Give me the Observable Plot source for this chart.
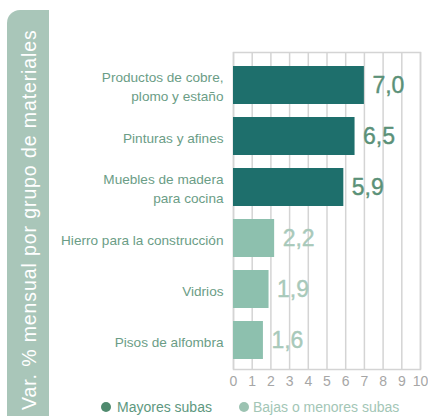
<!DOCTYPE html>
<html>
<head>
<meta charset="utf-8">
<script src="https://cdn.jsdelivr.net/npm/d3@7"></script>
<script src="https://cdn.jsdelivr.net/npm/@observablehq/plot@0.6"></script>
<style>
  html, body { margin: 0; padding: 0; background: #fff; }
  #chart { width: 428px; height: 416px; }
</style>
</head>
<body>
<div id="chart"></div>
<script>
const categorias = ["Productos de cobre,\nplomo y estaño", "Pinturas y afines", "Muebles de madera\npara cocina", "Hierro para la construcción", "Vidrios", "Pisos de alfombra"];
const valores = [7.0, 6.5, 5.9, 2.2, 1.9, 1.6];
const grupos = ["Mayores subas", "Mayores subas", "Mayores subas", "Bajas o menores subas", "Bajas o menores subas", "Bajas o menores subas"];
const grupoNombres = ["Mayores subas", "Bajas o menores subas"];
const xTicks = [0, 1, 2, 3, 4, 5, 6, 7, 8, 9, 10];
const tituloEje = "Var. % mensual por grupo de materiales";

const barColors = ["#1e6f6c", "#8dc0ae"];
const valueColors = ["#5b9178", "#a8c9ba"];
const legendDot = ["#4f8a6e", "#9cc3b2"];
const legendText = ["#5e9880", "#a3c6b6"];
const font = "'Liberation Sans', Arial, sans-serif";

const data = categorias.map((c, i) => ({categoria: c, valor: valores[i], grupo: grupos[i]}));
const fmt = v => d3.format(".1f")(v).replace(".", ",");

const chart = Plot.plot({
  width: 428,
  height: 416,
  marginLeft: 233,
  marginRight: 8,
  marginTop: 52,
  marginBottom: 47,
  style: {fontFamily: font, background: "#fff"},
  x: {domain: [0, 10], ticks: xTicks},
  y: {domain: categorias, paddingInner: 0.26, paddingOuter: 0.13, insetTop: 6, insetBottom: 3},
  color: {domain: grupoNombres, range: barColors},
  marks: [
    Plot.ruleX(xTicks, {stroke: "#d4d4d4", strokeWidth: 1.5}),
    Plot.frame({stroke: "#d4d4d4", strokeWidth: 1.5}),
    Plot.barX(data, {x: "valor", y: "categoria", fill: "grupo"}),
    Plot.text(data.filter(d => d.grupo === grupoNombres[0]), {x: "valor", y: "categoria", text: d => fmt(d.valor), textAnchor: "start", dx: 8, fontSize: 23, fill: valueColors[0], stroke: valueColors[0], strokeWidth: 0.4}),
    Plot.text(data.filter(d => d.grupo === grupoNombres[1]), {x: "valor", y: "categoria", text: d => fmt(d.valor), textAnchor: "start", dx: 8, fontSize: 23, fill: valueColors[1], stroke: valueColors[1], strokeWidth: 0.4}),
    Plot.axisX({ticks: xTicks, tickSize: 0, tickPadding: 7, fontSize: 14, fill: "#a6a6a6", label: null}),
    Plot.axisY({tickSize: 0, tickPadding: 10, fontSize: 13.6, lineHeight: 1.4, fill: "#6b9d86", label: null})
  ]
});

document.getElementById("chart").appendChild(chart);

// Left vertical band with rotated axis title
const svg = d3.select(chart);
const band = svg.insert("g", ":first-child");
const bx0 = 7, bx1 = 49, by0 = 10, by1 = 416, r = 13;
band.append("path")
  .attr("d", `M${bx0},${by1} L${bx0},${by0 + r} A${r},${r} 0 0 1 ${bx0 + r},${by0} L${bx1},${by0} L${bx1},${by1} Z`)
  .attr("fill", "#a9c6b9");
band.append("text")
  .attr("transform", `translate(36,410) rotate(-90)`)
  .attr("text-anchor", "start")
  .attr("fill", "#fff")
  .style("font-size", "19.5px")
  .style("letter-spacing", "0.9px")
  .style("font-family", font)
  .text(tituloEje);

// Legend
const legend = svg.append("g").style("font-family", font).style("font-size", "14px").attr("text-anchor", "start");
const items = [{x: 106, tx: 117}, {x: 244, tx: 253}];
grupoNombres.forEach((g, i) => {
  legend.append("circle").attr("cx", items[i].x).attr("cy", 407).attr("r", 5).attr("fill", legendDot[i]);
  legend.append("text").attr("x", items[i].tx).attr("y", 412).attr("text-anchor", "start").attr("fill", legendText[i]).text(g);
});
</script>
</body>
</html>
